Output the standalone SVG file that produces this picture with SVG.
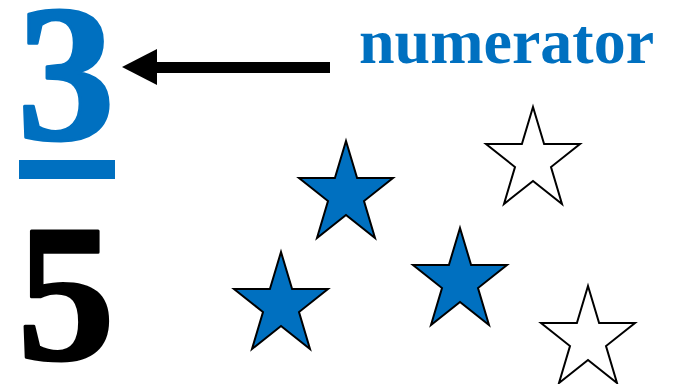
<svg xmlns="http://www.w3.org/2000/svg" width="675" height="384" viewBox="0 0 675 384">
<style>
.num{font-family:"Liberation Serif","Times New Roman",serif;font-weight:bold;font-size:195px;text-anchor:middle;stroke-width:3;stroke-linejoin:round}
.lbl{font-family:"Liberation Serif","Times New Roman",serif;font-weight:bold;font-size:64px;fill:#0070C0}
.blue{fill:#0070C0;stroke:#000;stroke-width:2;stroke-linejoin:miter}
.white{fill:#fff;stroke:#000;stroke-width:2;stroke-linejoin:miter}
</style>
<defs>
<path id="star" d="M0,0 L11.1,37 L47,37 L18,60 L29,97 L0,74 L-29,97 L-18,60 L-47,37 L-11.1,37 Z"/>
</defs>
<rect width="675" height="384" fill="#fff"/>
<g id="numerator-digit"><text class="num" x="66" y="139" fill="#0070C0" stroke="#0070C0">3</text></g>
<g id="fraction-bar"><rect x="19" y="160" width="96" height="19" fill="#0070C0"/></g>
<g id="denominator-digit"><text class="num" x="66" y="359" fill="#000" stroke="#000">5</text></g>
<g id="label"><text class="lbl" x="359" y="63">numerator</text></g>
<g id="connectors">
<rect x="155" y="62" width="175" height="11" fill="#000"/>
<polygon points="122,67 157,49 157,85" fill="#000"/>
</g>
<g id="star1"><use href="#star" class="blue" transform="translate(346,141)"/></g>
<g id="star2"><use href="#star" class="blue" transform="translate(281,252)"/></g>
<g id="star3"><use href="#star" class="blue" transform="translate(460,228)"/></g>
<g id="star4"><use href="#star" class="white" transform="translate(533,107)"/></g>
<g id="star5"><use href="#star" class="white" transform="translate(588,286)"/></g>
</svg>
